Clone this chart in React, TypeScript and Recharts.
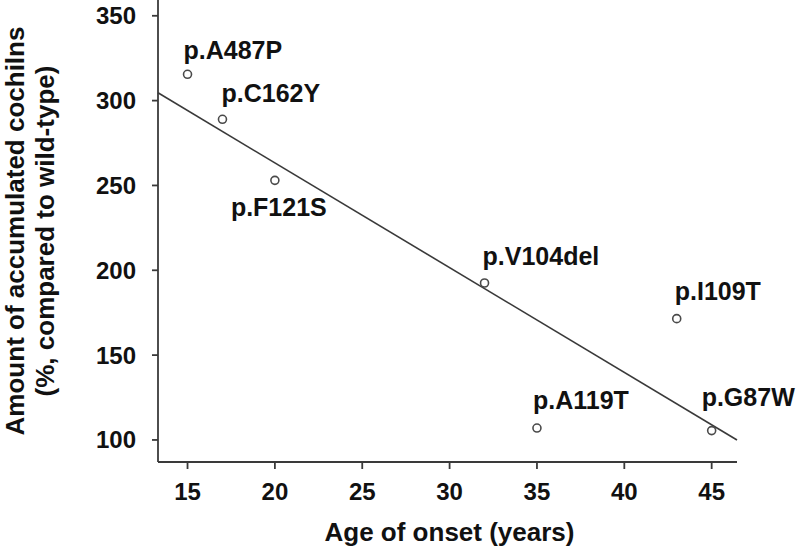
import React from 'react';
import { ScatterChart, Scatter, XAxis, YAxis, ReferenceLine, Label } from 'recharts';

// ---- data ----
const mutations = ['p.A487P', 'p.C162Y', 'p.F121S', 'p.V104del', 'p.A119T', 'p.I109T', 'p.G87W'];
const ageOfOnset = [15, 17, 20, 32, 35, 43, 45];
const accumulatedCochlins = [315.5, 289, 253, 192.5, 107, 171.5, 105.5];
const xTicks = [15, 20, 25, 30, 35, 40, 45];
const yTicks = [100, 150, 200, 250, 300, 350];
// regression line end points
const fitAge = [13.31, 46.45];
const fitAmount = [304.6, 100];

// ---- layout / styling ----
const FONT = '"Liberation Sans", Arial, Helvetica, sans-serif';
const INK = '#111';
const LINE = '#3a3a3a';
// label offsets relative to the point: [dx to text start, dy to text centre]
const labelOffset: Record<string, [number, number]> = {
  'p.A487P': [-4, -24],
  'p.C162Y': [-1, -26.5],
  'p.F121S': [-44, 27],
  'p.V104del': [-2, -27.5],
  'p.A119T': [-4, -28.5],
  'p.I109T': [-2, -27.5],
  'p.G87W': [-10, -34],
};

const points = mutations.map((name, i) => ({
  name,
  age: ageOfOnset[i],
  amount: accumulatedCochlins[i],
}));

const PointShape = (props: any) => {
  const { cx, cy, payload } = props;
  if (cx == null || cy == null) return null;
  const off = labelOffset[payload.name] || [0, -26];
  return (
    <g>
      <circle cx={cx} cy={cy} r={4} fill="#fff" stroke="#4a4a4a" strokeWidth={1.6} />
      <text
        x={cx + off[0]}
        y={cy + off[1]}
        dominantBaseline="central"
        textAnchor="start"
        fontFamily={FONT}
        fontWeight="bold"
        fontSize={25}
        fill={INK}
      >
        {payload.name}
      </text>
    </g>
  );
};

const YTitle = (props: any) => {
  const vb = props.viewBox || { x: 0, y: 0, width: 158, height: 462 };
  const cy = vb.y + vb.height / 2;
  const x1 = 15;
  const x2 = 45;
  return (
    <g fontFamily={FONT} fontWeight="bold" fontSize={26} fill={INK}>
      <text x={x1} y={cy} textAnchor="middle" dominantBaseline="central" transform={`rotate(-90, ${x1}, ${cy})`}>
        Amount of accumulated cochilns
      </text>
      <text x={x2} y={cy} textAnchor="middle" dominantBaseline="central" transform={`rotate(-90, ${x2}, ${cy})`}>
        (%, compared to wild-type)
      </text>
    </g>
  );
};

const XTitle = (props: any) => {
  const vb = props.viewBox || { x: 158, y: 462, width: 579, height: 88 };
  const cx = vb.x + vb.width / 2 + 2;
  return (
    <text
      x={cx}
      y={532}
      textAnchor="middle"
      dominantBaseline="central"
      fontFamily={FONT}
      fontWeight="bold"
      fontSize={26}
      fill={INK}
    >
      Age of onset (years)
    </text>
  );
};

export default function App() {
  return (
    <div style={{ position: 'absolute', left: 0, top: 0, width: 800, height: 550, background: '#fff' }}>
      <ScatterChart width={800} height={550} margin={{ top: 0, right: 63, bottom: 0, left: 0 }}>
        <XAxis
          type="number"
          dataKey="age"
          domain={[fitAge[0], fitAge[1]]}
          ticks={xTicks}
          height={88}
          axisLine={{ stroke: LINE, strokeWidth: 1.8 }}
          tickLine={{ stroke: LINE, strokeWidth: 1.8 }}
          tickSize={7}
          tickMargin={14}
          tick={{ fill: INK, fontFamily: FONT, fontWeight: 'bold', fontSize: 24 }}
        >
          <Label content={<XTitle />} />
        </XAxis>
        <YAxis
          type="number"
          dataKey="amount"
          domain={[87, 359.3]}
          ticks={yTicks}
          width={158}
          axisLine={{ stroke: LINE, strokeWidth: 1.8 }}
          tickLine={{ stroke: LINE, strokeWidth: 1.8 }}
          tickSize={6}
          tickMargin={16}
          tick={{ fill: INK, fontFamily: FONT, fontWeight: 'bold', fontSize: 24 }}
        >
          <Label content={<YTitle />} />
        </YAxis>
        <ReferenceLine
          segment={[
            { x: fitAge[0], y: fitAmount[0] },
            { x: fitAge[1], y: fitAmount[1] },
          ]}
          stroke={LINE}
          strokeWidth={1.6}
          ifOverflow="visible"
        />
        <Scatter data={points} shape={<PointShape />} isAnimationActive={false} />
      </ScatterChart>
    </div>
  );
}
